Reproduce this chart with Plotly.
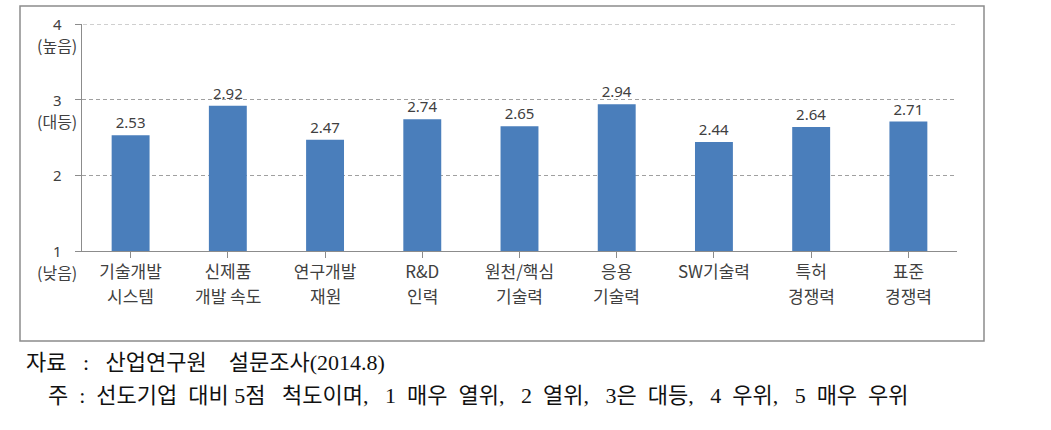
import plotly.graph_objects as go

categories = ["기술개발<br>시스템", "신제품<br>개발 속도", "연구개발<br>재원", "R&D<br>인력",
              "원천/핵심<br>기술력", "응용<br>기술력", "SW기술력", "특허<br>경쟁력", "표준<br>경쟁력"]
values = [2.53, 2.92, 2.47, 2.74, 2.65, 2.94, 2.44, 2.64, 2.71]
value_labels = ["2.53", "2.92", "2.47", "2.74", "2.65", "2.94", "2.44", "2.64", "2.71"]
y_ticks = [1, 2, 3, 4]
y_tick_text = ["1", "2", "3", "4"]
y_sub_labels = {4: "(높음)", 3: "(대등)", 1: "(낮음)"}
source_text = "자료   :   산업연구원    설문조사(2014.8)"
note_text = "주  :  선도기업  대비 5점   척도이며,   1  매우  열위,   2  열위,   3은  대등,   4  우위,   5  매우  우위"

line1 = [c.split("<br>")[0] for c in categories]
line2 = [c.split("<br>")[1] if "<br>" in c else "" for c in categories]
xpos = list(range(len(categories)))

W, H = 1051, 430
L, R, T, B = 82, 957, 24, 251
pw, ph = R - L, B - T

def px(x):
    return (x - L) / pw

def py(y):
    return (B - y) / ph

FONT = "Noto Sans CJK KR"
GRAY = "#404040"
SERIF = "Liberation Serif, Noto Sans CJK KR"
AXC = "#8c8c8c"

fig = go.Figure()
fig.add_trace(go.Bar(
    x=xpos, y=[v - 1 for v in values], base=1,
    marker=dict(color="#4A7EBB", line=dict(width=0)),
    width=0.39,
    text=value_labels, textposition="outside",
    textfont=dict(family="Noto Sans", size=15, color=GRAY),
    cliponaxis=False, hoverinfo="skip",
))

annotations = []
for xi, lab in zip(xpos, line2):
    if lab:
        annotations.append(dict(x=xi, xref="x", y=py(295), yref="paper", text=lab,
                                showarrow=False, xanchor="center", yanchor="middle",
                                font=dict(family=FONT, size=17, color=GRAY)))
for yv, lab in y_sub_labels.items():
    annotations.append(dict(x=px(57), xref="paper", y=yv, yref="y", yshift=-21,
                            text=lab, showarrow=False, xanchor="center", yanchor="middle",
                            font=dict(family=FONT, size=16, color=GRAY)))
for yv, lab in zip(y_ticks, y_tick_text):
    annotations.append(dict(x=px(57), xref="paper", y=yv, yref="y",
                            text=lab, showarrow=False, xanchor="center", yanchor="middle",
                            font=dict(family="Noto Sans", size=15, color=GRAY)))
annotations.append(dict(x=px(205), xref="paper", y=py(362), yref="paper", text=source_text,
                        showarrow=False, xanchor="center", yanchor="middle",
                        font=dict(family=SERIF, size=22, color="#111")))
annotations.append(dict(x=px(478), xref="paper", y=py(396), yref="paper", text=note_text,
                        showarrow=False, xanchor="center", yanchor="middle",
                        font=dict(family=SERIF, size=22, color="#111")))

fig.update_layout(
    width=W, height=H,
    margin=dict(l=L, r=W - R, t=T, b=H - B),
    paper_bgcolor="white", plot_bgcolor="white",
    showlegend=False,
    annotations=annotations,
    shapes=[
        dict(type="rect", xref="paper", yref="paper",
             x0=px(20), x1=px(984), y0=py(341), y1=py(6),
             line=dict(color=AXC, width=1.5), fillcolor="rgba(0,0,0,0)", layer="below"),
        dict(type="line", xref="paper", yref="y", x0=px(76), x1=1, y0=4, y1=4,
             line=dict(color="#a0a0a0", width=1, dash="4px,3px"), layer="below"),
    ],
    xaxis=dict(
        range=[-0.5, len(categories) - 0.5],
        tickmode="array", tickvals=xpos, ticktext=line1,
        tickson="boundaries", ticks="outside", ticklen=6, tickcolor=AXC,
        showline=True, linecolor=AXC, linewidth=1,
        showgrid=False, zeroline=False,
        tickfont=dict(family=FONT, size=17, color=GRAY),
    ),
    yaxis=dict(
        range=[1, 4], tickvals=y_ticks, showticklabels=False,
        ticks="outside", ticklen=6, tickcolor=AXC,
        showline=True, linecolor=AXC, linewidth=1,
        showgrid=True, gridcolor="#a0a0a0", griddash="4px,3px", gridwidth=1,
        zeroline=False,
    ),
)

fig.write_html("out.html", config={"displayModeBar": False},
               post_script="document.body.style.margin='0';")
